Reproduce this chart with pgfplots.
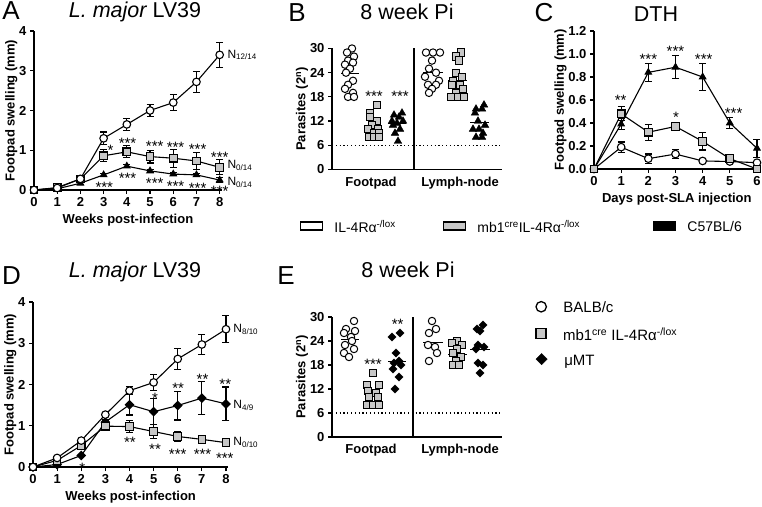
\documentclass[border=0pt]{standalone}
\usepackage{fontspec}
\setmainfont{Liberation Sans}
\usepackage{pgfplots}
\pgfplotsset{compat=1.18}
\definecolor{sqgray}{gray}{0.78}

\pgfplotsset{
  gp/.style={
    scale only axis, anchor=south west,
    axis lines=left,
    axis line style={line width=1.2pt,-},
    tick style={line width=1.2pt,black},
    tick align=outside,
    major tick length=4pt,
    ticklabel style={font=\fontsize{13}{13}\selectfont\bfseries},
    label style={font=\fontsize{13}{14}\selectfont\bfseries},
    ylabel shift=-5pt,
    /pgf/number format/assume math mode=true,
    clip=false,
  },
  circ/.style={black, line width=1.1pt, mark=*, mark size=3.8pt, mark options={fill=white, line width=1.1pt, solid}},
  sq/.style={black, line width=1.1pt, mark=square*, mark size=3.8pt, mark options={fill=sqgray, line width=1.1pt, solid}},
  tri/.style={black, line width=1.1pt, mark=triangle*, mark size=3.6pt, mark options={fill=black, solid}},
  dia/.style={black, line width=1.1pt, mark=square*, mark size=2.9pt, mark options={fill=black, solid, rotate=45}},
  eb/.style={error bars/.cd, y dir=both, y explicit, error bar style={line width=1.1pt, black}, error mark options={rotate=90, mark size=3.5pt, line width=1.1pt, black}},
  scirc/.style={only marks, mark=*, mark size=3.7pt, mark options={fill=white, draw=black, line width=1pt}},
  ssq/.style={only marks, mark=square*, mark size=3.6pt, mark options={fill=sqgray, draw=black, line width=1pt}},
  stri/.style={only marks, mark=triangle*, mark size=4.4pt, mark options={fill=black, draw=black}},
  sdia/.style={only marks, mark=square*, mark size=2.9pt, mark options={fill=black, draw=black, rotate=45}},
  mline/.style={black, line width=1pt, no marks},
}
\tikzset{
  star/.style={font=\fontsize{15}{15}\selectfont, anchor=base, yshift=-8.5pt, inner sep=0pt},
  nlab/.style={font=\fontsize{12}{12}\selectfont, anchor=west, inner sep=0pt},
  ttl/.style={font=\fontsize{21.5}{22}\selectfont, anchor=base},
  plet/.style={font=\fontsize{26}{26}\selectfont, anchor=base},
}

\newcommand{\legrect}[4]{%
\begin{axis}[hide axis, scale only axis, width=10pt, height=10pt, at={(#1pt,#2pt)}, anchor=center,
  xmin=0, xmax=1, ymin=0, ymax=1,
  legend style={at={(0.5,0.5)}, anchor=west, draw=none, fill=none, inner sep=0pt, outer sep=0pt,
    font=\fontsize{14}{14}\selectfont, nodes={inner sep=0pt},
    /tikz/every odd column/.append style={column sep=11pt}},
  legend image code/.code={\draw[##1] (0pt,-3pt) rectangle (22pt,5pt);}]
\addlegendimage{draw=black, line width=1.4pt, fill=#3}
\addlegendentry{#4}
\end{axis}}

\newcommand{\legmark}[4]{%
\begin{axis}[hide axis, scale only axis, width=10pt, height=10pt, at={(#1pt,#2pt)}, anchor=center,
  xmin=0, xmax=1, ymin=0, ymax=1,
  legend style={at={(0.5,0.5)}, anchor=west, draw=none, fill=none, inner sep=0pt, outer sep=0pt,
    font=\fontsize{15}{15}\selectfont, nodes={inner sep=0pt},
    /tikz/every odd column/.append style={column sep=17pt}},
  legend image code/.code={\draw[##1] plot coordinates {(0pt,1.5pt)};}]
\addlegendimage{#3}
\addlegendentry{#4}
\end{axis}}

\begin{document}
\begin{tikzpicture}
\path[use as bounding box] (0pt,0pt) rectangle (762pt,506pt);

% ---------------- Panel A ----------------
\begin{axis}[gp, at={(34pt,316pt)}, width=188pt, height=159pt,
  xmin=0, xmax=8.1, ymin=0, ymax=4, xtick={0,...,8}, ytick={0,...,4},
  xlabel={Weeks post-infection}, ylabel={Footpad swelling (mm)}]
\addplot[tri, eb] coordinates {(0,0)+-(0,0) (1,0.03)+-(0,0.02) (2,0.17)+-(0,0.03) (3,0.38)+-(0,0.04) (4,0.6)+-(0,0.04) (5,0.48)+-(0,0.04) (6,0.4)+-(0,0.04) (7,0.38)+-(0,0.04) (8,0.25)+-(0,0.06)};
\addplot[sq, eb] coordinates {(0,0)+-(0,0) (1,0.06)+-(0,0.03) (2,0.28)+-(0,0.04) (3,0.86)+-(0,0.15) (4,0.96)+-(0,0.15) (5,0.84)+-(0,0.16) (6,0.8)+-(0,0.23) (7,0.73)+-(0,0.21) (8,0.57)+-(0,0.19)};
\addplot[circ, eb] coordinates {(0,0)+-(0,0) (1,0.05)+-(0,0.03) (2,0.28)+-(0,0.04) (3,1.3)+-(0,0.16) (4,1.65)+-(0,0.15) (5,2.0)+-(0,0.14) (6,2.2)+-(0,0.2) (7,2.72)+-(0,0.27) (8,3.4)+-(0,0.32)};
\node[star] at (axis cs:3.3,1.08) {*};
\node[star] at (axis cs:4.03,1.25) {***};
\node[star] at (axis cs:5.2,1.18) {***};
\node[star] at (axis cs:6.1,1.15) {***};
\node[star] at (axis cs:7.05,1.1) {***};
\node[star] at (axis cs:8.0,0.9) {***};
\node[star] at (axis cs:3.03,0.14) {***};
\node[star] at (axis cs:4.03,0.38) {***};
\node[star] at (axis cs:5.2,0.24) {***};
\node[star] at (axis cs:6.1,0.17) {***};
\node[star] at (axis cs:7.05,0.13) {***};
\node[star] at (axis cs:8.0,0.05) {***};
\node[nlab] at (axis cs:8.33,3.4) {N\textsubscript{12/14}};
\node[nlab] at (axis cs:8.33,0.62) {N\textsubscript{0/14}};
\node[nlab] at (axis cs:8.33,0.2) {N\textsubscript{0/14}};
\end{axis}

% ---------------- Panel B ----------------
\begin{axis}[gp, at={(332pt,336.5pt)}, width=170pt, height=121pt,
  xmin=0, xmax=170, ymin=0, ymax=30, xtick={39,128}, xticklabels={Footpad,Lymph-node},
  xtick style={draw=none}, ytick={0,6,...,30},
  ylabel={Parasites (2\textsuperscript{n})}]
\addplot[black, line width=1.2pt, dash pattern=on 1.1pt off 2.7pt, no marks] coordinates {(0,6) (170,6)};
\addplot[black, line width=1.2pt, no marks] coordinates {(82,0) (82,30)};
\addplot[scirc] coordinates {(20,30)(15,29)(22,28)(16,27)(21,26.5)(13,26)(18,25)(14,24)(21,22)(16,21)(13,20)(21,19)(16,18)(22,18)};
\addplot[ssq] coordinates {(45,16)(38,14)(38,13)(45,12)(40,11)(46,10)(36,10)(42,9)(47,9)(37,8)(42,8)(47,8)};
\addplot[stri] coordinates {(70,14)(62,13.5)(67,13)(60,12)(71,12)(65,11.5)(61,11)(68,10)(63,9)(66,7)};
\addplot[scirc] coordinates {(94,29)(101,29)(108,29)(100,27)(97,25)(104,24)(93,23)(107,22)(96,21)(104,21)(100,20)(97,19)};
\addplot[ssq] coordinates {(129,29)(124,28)(127,27)(124,24)(130,23)(121,22)(128,21)(120,21)(131,20)(124,19)(119,18)(126,18)(132,18)};
\addplot[stri] coordinates {(152,16)(144,15)(150,15)(143,14)(146,12)(153,11)(147,10)(141,10)(151,9)(144,8)(150,8)};
\addplot[mline] coordinates {(9,23.8)(27,23.8)};
\addplot[mline] coordinates {(32,10.7)(50,10.7)};
\addplot[mline] coordinates {(56,11.4)(74,11.4)};
\addplot[mline] coordinates {(91,24.1)(111,24.1)};
\addplot[mline] coordinates {(116,22)(135,22)};
\addplot[mline] coordinates {(138,11.6)(157,11.6)};
\node[star] at (axis cs:42,18.9) {***};
\node[star] at (axis cs:68,18.9) {***};
\end{axis}

% ---------------- Panel C ----------------
\begin{axis}[gp, at={(594pt,337pt)}, width=165.7pt, height=138pt,
  xmin=0, xmax=6.1, ymin=0, ymax=1.2, xtick={0,...,6}, ytick={0,0.2,0.4,0.6,0.8,1.0,1.2},
  yticklabel style={/pgf/number format/.cd, fixed, fixed zerofill, precision=1},
  xlabel={Days post-SLA injection}, ylabel={Footpad swelling (mm)}]
\addplot[circ, eb] coordinates {(0,0)+-(0,0) (1,0.19)+-(0,0.045) (2,0.09)+-(0,0.04) (3,0.13)+-(0,0.04) (4,0.07)+-(0,0.01) (5,0.065)+-(0,0.02) (6,0.055)+-(0,0.01)};
\addplot[tri, eb] coordinates {(0,0)+-(0,0) (1,0.39)+-(0,0.05) (2,0.84)+-(0,0.08) (3,0.885)+-(0,0.1) (4,0.8)+-(0,0.115) (5,0.4)+-(0,0.045) (6,0.18)+-(0,0.08)};
\addplot[sq, eb] coordinates {(0,0)+-(0,0) (1,0.48)+-(0,0.06) (2,0.32)+-(0,0.07) (3,0.37)+-(0,0.02) (4,0.24)+-(0,0.075) (5,0.09)+-(0,0.02) (6,0.0)+-(0,0)};
\node[star] at (axis cs:0.98,0.63) {**};
\node[star] at (axis cs:2.0,0.98) {***};
\node[star] at (axis cs:3.0,1.05) {***};
\node[star] at (axis cs:4.04,0.98) {***};
\node[star] at (axis cs:5.14,0.51) {***};
\node[star] at (axis cs:3.02,0.475) {*};
\end{axis}

% ---------------- Panel D ----------------
\begin{axis}[gp, at={(33pt,39pt)}, width=195.4pt, height=165pt,
  xmin=0, xmax=8.1, ymin=0, ymax=4, xtick={0,...,8}, ytick={0,...,4},
  xlabel={Weeks post-infection}, ylabel={Footpad swelling (mm)}]
\addplot[dia, eb] coordinates {(0,0)+-(0,0) (1,0.06)+-(0,0.02) (2,0.28)+-(0,0.03) (3,1.09)+-(0,0.05) (4,1.51)+-(0,0.25) (5,1.34)+-(0,0.32) (6,1.49)+-(0,0.35) (7,1.67)+-(0,0.4) (8,1.53)+-(0,0.41)};
\addplot[sq, eb] coordinates {(0,0)+-(0,0) (1,0.16)+-(0,0.03) (2,0.52)+-(0,0.04) (3,0.99)+-(0,0.1) (4,0.98)+-(0,0.15) (5,0.86)+-(0,0.17) (6,0.74)+-(0,0.12) (7,0.67)+-(0,0.07) (8,0.59)+-(0,0.08)};
\addplot[circ, eb] coordinates {(0,0)+-(0,0) (1,0.22)+-(0,0.03) (2,0.64)+-(0,0.04) (3,1.27)+-(0,0.05) (4,1.85)+-(0,0.1) (5,2.05)+-(0,0.19) (6,2.62)+-(0,0.25) (7,2.97)+-(0,0.25) (8,3.34)+-(0,0.33)};
\node[star] at (axis cs:2.04,0.06) {*};
\node[star] at (axis cs:5.06,1.75) {*};
\node[star] at (axis cs:4.02,0.68) {**};
\node[star] at (axis cs:5.06,0.52) {**};
\node[star] at (axis cs:6.0,0.4) {***};
\node[star] at (axis cs:7.03,0.4) {***};
\node[star] at (axis cs:7.95,0.3) {***};
\node[star] at (axis cs:6.02,1.99) {**};
\node[star] at (axis cs:7.03,2.21) {**};
\node[star] at (axis cs:7.97,2.09) {**};
\node[nlab] at (axis cs:8.3,3.34) {N\textsubscript{8/10}};
\node[nlab] at (axis cs:8.3,1.5) {N\textsubscript{4/9}};
\node[nlab] at (axis cs:8.3,0.59) {N\textsubscript{0/10}};
\end{axis}

% ---------------- Panel E ----------------
\begin{axis}[gp, at={(332pt,69pt)}, width=170pt, height=120pt,
  xmin=0, xmax=170, ymin=0, ymax=30, xtick={39,128}, xticklabels={Footpad,Lymph-node},
  xtick style={draw=none}, ytick={0,6,...,30},
  ylabel={Parasites (2\textsuperscript{n})}]
\addplot[black, line width=1.2pt, dash pattern=on 1.1pt off 2.7pt, no marks] coordinates {(0,6) (170,6)};
\addplot[black, line width=1.2pt, no marks] coordinates {(81,0) (81,30)};
\addplot[scirc] coordinates {(22,29)(14,27)(23,26.5)(12,26)(19,25)(20,24)(13,23)(22,22)(12,21)(17,20)};
\addplot[ssq] coordinates {(41,16)(35,13)(47,13)(36,11.5)(44,11)(37,10)(46,10)(35,8)(41,8)(47,8)};
\addplot[sdia] coordinates {(68,26)(60,25)(64,21)(67,19)(62,18.5)(69,18)(61,17)(67,15)(63,12)};
\addplot[scirc] coordinates {(100,29)(104,27)(97,26)(96,23)(103,22.5)(105,21)(97,19)};
\addplot[ssq] coordinates {(125,24)(120,23.5)(130,23)(125,22)(121,21)(129,20)(124,19)(121,18)(127,18)};
\addplot[sdia] coordinates {(151,28)(145,27)(148,26.5)(146,23)(152,22.5)(144,22)(146,18.5)(151,18)(148,16)};
\addplot[mline] coordinates {(9,24.3)(27,24.3)};
\addplot[mline] coordinates {(32,10.9)(50,10.9)};
\addplot[mline] coordinates {(56,19)(74,19)};
\addplot[mline] coordinates {(91,23.6)(111,23.6)};
\addplot[mline] coordinates {(116,20.6)(135,20.6)};
\addplot[mline] coordinates {(138,22)(158,22)};
\node[star] at (axis cs:41,18.9) {***};
\node[star] at (axis cs:65.7,29) {**};
\end{axis}

% ---------------- Legends ----------------
\legrect{300}{279}{white}{\makebox[110pt][l]{IL-4Rα\textsuperscript{-/lox}}}
\legrect{443}{279}{sqgray}{mb1\textsuperscript{cre}IL-4Rα\textsuperscript{-/lox}}
\legrect{653}{279}{black}{C57BL/6}

\legmark{536}{198}{only marks, mark=*, mark size=5.2pt, mark options={fill=white, draw=black, line width=1.3pt}}{BALB/c}
\legmark{536}{171}{only marks, mark=square*, mark size=5pt, mark options={fill=sqgray, draw=black, line width=1.3pt}}{mb1\textsuperscript{cre} IL-4Rα\textsuperscript{-/lox}}
\legmark{536}{146}{only marks, mark=square*, mark size=4pt, mark options={fill=black, draw=black, rotate=45}}{μMT}

% ---------------- Titles ----------------
\node[plet] at (11pt,486pt) {A};
\node[ttl] at (135pt,488pt) {{\itshape L. major} LV39};
\node[plet] at (297pt,484pt) {B};
\node[ttl] at (407pt,486pt) {8 week Pi};
\node[plet] at (544pt,484pt) {C};
\node[ttl] at (656pt,484pt) {DTH};
\node[plet] at (11.5pt,221pt) {D};
\node[ttl] at (135pt,228pt) {{\itshape L. major} LV39};
\node[plet] at (286pt,221pt) {E};
\node[ttl] at (408pt,228pt) {8 week Pi};
\end{tikzpicture}
\end{document}
